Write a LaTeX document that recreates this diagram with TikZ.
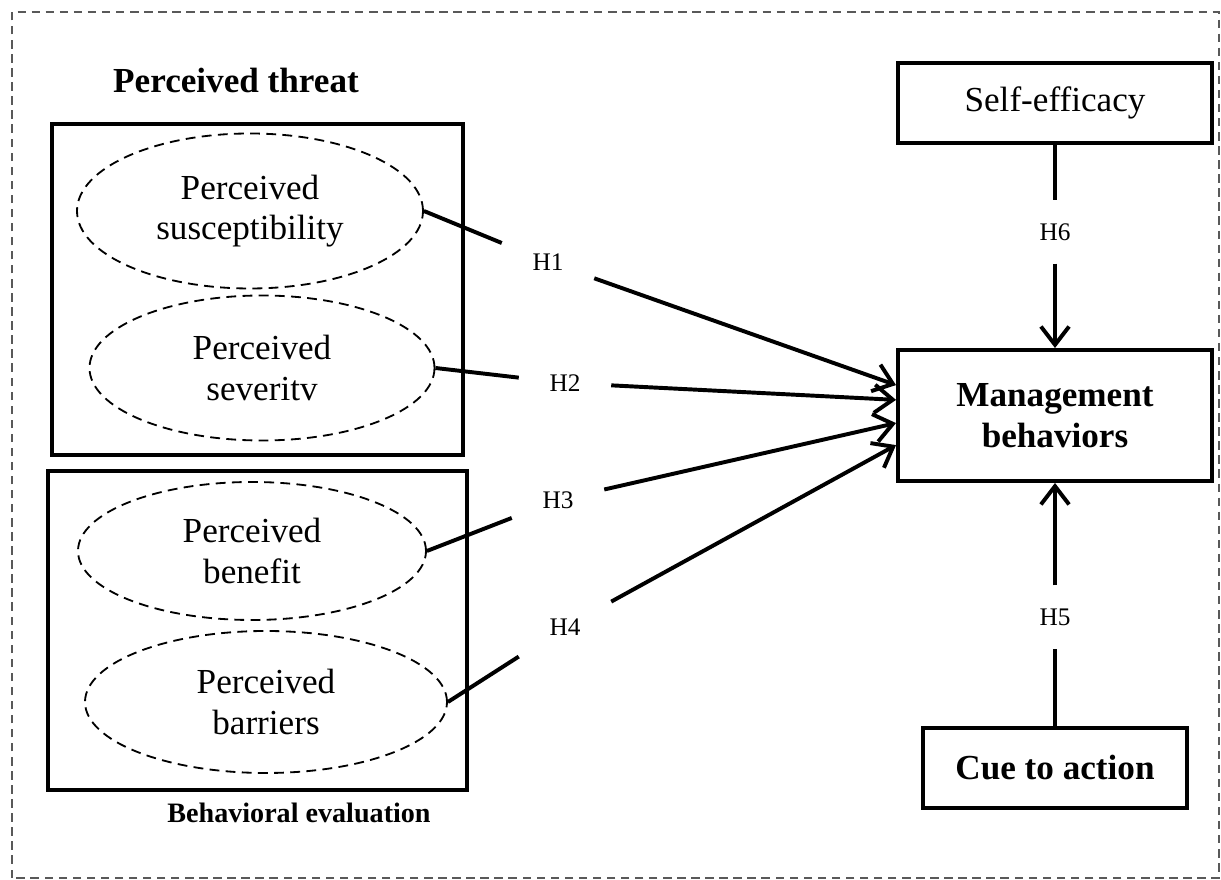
\documentclass[tikz,border=0pt]{standalone}
\usepackage{fontspec}
\setmainfont{Liberation Serif}
\usetikzlibrary{arrows.meta, shapes.geometric}

\begin{document}
\begin{tikzpicture}[
    >={Straight Barb[length=13pt, width=20pt]},
    line width=2.8pt,
    bigfont/.style={font=\fontsize{25}{29}\selectfont},
    boldfont/.style={font=\fontsize{25}{29}\selectfont\bfseries},
    groupbox/.style={draw, rectangle, line width=2.8pt},
    factor/.style={draw, ellipse, line width=1.3pt, dash pattern=on 7pt off 4.5pt, align=center, bigfont},
    outcome/.style={draw, rectangle, line width=2.8pt, align=center, bigfont},
    hyp/.style={inner xsep=0.72cm, inner ysep=0.53cm, font=\fontsize{18}{20}\selectfont}
]

% Rahmen (gestrichelt) und feste Bildgroesse
\useasboundingbox (0,0) rectangle (30.525,22);
\draw[black!65, line width=1.2pt, dash pattern=on 6pt off 4pt] (0.3,0.05) rectangle (30.475,21.7);

% 1. Gruppen links
\node[groupbox, minimum width=10.275cm, minimum height=8.275cm] (threatbox) at (6.4375,14.7625) {};
\node[groupbox, minimum width=10.475cm, minimum height=7.975cm] (evalbox) at (6.4375,6.2375) {};
\node[boldfont] (threattitle) at (5.9,20.0) {Perceived threat};
\node[font=\fontsize{20}{24}\selectfont\bfseries] (evaltitle) at (7.475,1.675) {Behavioral evaluation};

% 2. Die vier Faktoren (Ellipsen)
\node[factor, minimum width=8.65cm, minimum height=3.875cm] (susc) at (6.25,16.725) {Perceived\\susceptibility};
\node[factor, minimum width=8.625cm, minimum height=3.625cm] (sev) at (6.55,12.8) {Perceived\\severitv};
\node[factor, minimum width=8.7cm, minimum height=3.45cm] (benef) at (6.3,8.225) {Perceived\\benefit};
\node[factor, minimum width=9.05cm, minimum height=3.55cm] (barr) at (6.65,4.45) {Perceived\\barriers};

% 3. Rechte Seite
\node[outcome, minimum width=7.85cm, minimum height=2cm] (selfeff) at (26.375,19.425) {Self-efficacy};
\node[outcome, boldfont, minimum width=7.85cm, minimum height=3.275cm] (mgmt) at (26.375,11.6125) {Management\\behaviors};
\node[outcome, boldfont, minimum width=6.6cm, minimum height=2cm] (cue) at (26.375,2.8) {Cue to action};

% 4. Hypothesen
\node[hyp] (h1) at (13.7,15.45) {H1};
\node[hyp] (h2) at (14.125,12.425) {H2};
\node[hyp] (h3) at (13.95,9.5) {H3};
\node[hyp] (h4) at (14.125,6.325) {H4};
\node[hyp] (h6) at (26.375,16.2) {H6};
\node[hyp] (h5) at (26.375,6.575) {H5};

% 5. Verbindungen
\draw (susc.east) -- (h1);
\draw[->] (h1) -- ([yshift=0.76cm]mgmt.west);
\draw (sev.east) -- (h2);
\draw[->] (h2) -- ([yshift=0.39cm]mgmt.west);
\draw (benef.east) -- (h3);
\draw[->] (h3) -- ([yshift=-0.19cm]mgmt.west);
\draw (barr.east) -- (h4);
\draw[->] (h4) -- ([yshift=-0.74cm]mgmt.west);

\draw (selfeff) -- (h6);
\draw[->] (h6) -- (mgmt);
\draw (cue) -- (h5);
\draw[->] (h5) -- (mgmt);

\end{tikzpicture}
\end{document}
